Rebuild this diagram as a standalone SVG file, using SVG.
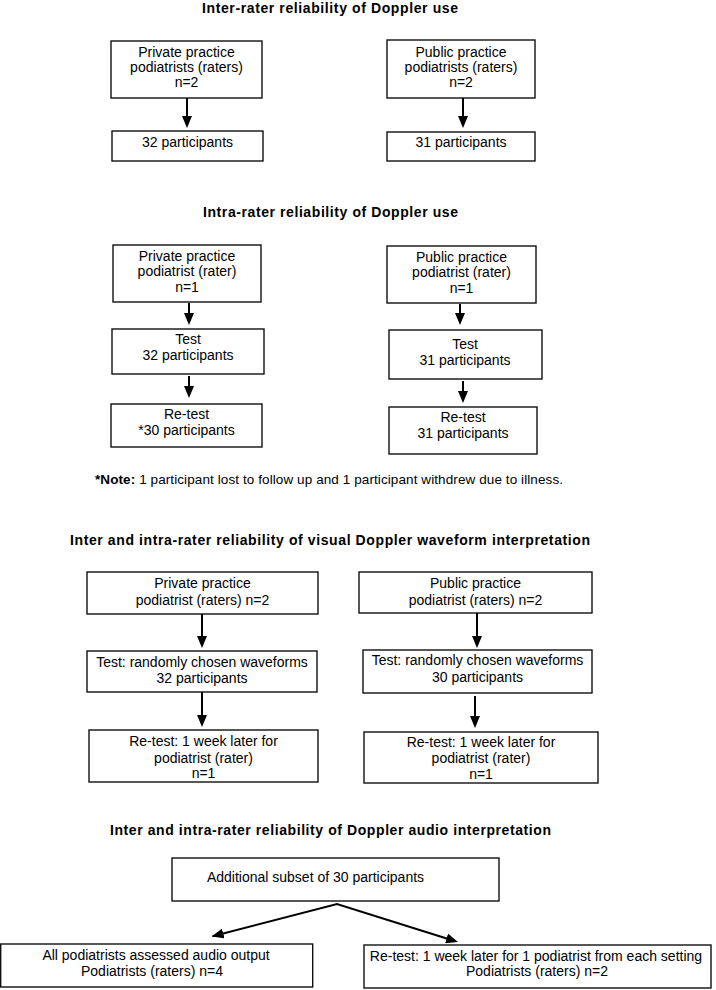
<svg xmlns="http://www.w3.org/2000/svg" width="716" height="990" viewBox="0 0 716 990">
<style>
  text { font-family: "Liberation Sans", Arial, Helvetica, sans-serif; fill: #000; }
  .t { font-size: 14px; font-weight: bold; }
  .b { font-size: 14px; text-anchor: middle; }
  .box { fill: #fff; stroke: #111; stroke-width: 1.4; }
  .conn { stroke: #000; stroke-width: 2; fill: none; }
  .note { font-size: 13.5px; }
</style>
<defs>
  <marker id="ah" viewBox="0 0 12 10" markerWidth="12" markerHeight="10" refX="1" refY="5" orient="auto" markerUnits="userSpaceOnUse">
    <path d="M0,0 L12,5 L0,10 z" fill="#000"/>
  </marker>
  <marker id="ahs" viewBox="0 0 12 10" markerWidth="12" markerHeight="10" refX="11" refY="5" orient="auto-start-reverse" markerUnits="userSpaceOnUse">
    <path d="M0,0 L12,5 L0,10 z" fill="#000"/>
  </marker>
</defs>
<rect width="716" height="990" fill="#fff"/>

<!-- Titles -->
<text class="t" x="202" y="13" textLength="256" lengthAdjust="spacing">Inter-rater reliability of Doppler use</text>
<text class="t" x="203" y="217" textLength="255" lengthAdjust="spacing">Intra-rater reliability of Doppler use</text>
<text class="t" x="70" y="545" textLength="520" lengthAdjust="spacing">Inter and intra-rater reliability of visual Doppler waveform interpretation</text>
<text class="t" x="110" y="835" textLength="441" lengthAdjust="spacing">Inter and intra-rater reliability of Doppler audio interpretation</text>

<!-- Section 1 -->
<g id="s1-priv">
  <rect class="box" x="111" y="41" width="151" height="57"/>
  <text class="b" x="186.5" y="57">Private practice</text>
  <text class="b" x="186.5" y="72">podiatrists (raters)</text>
  <text class="b" x="186.5" y="87">n=2</text>
</g>
<g id="s1-priv-n">
  <rect class="box" x="112" y="131" width="151" height="30"/>
  <text class="b" x="187.5" y="147">32 participants</text>
</g>
<g id="s1-pub">
  <rect class="box" x="387" y="40" width="148" height="58"/>
  <text class="b" x="461" y="57">Public practice</text>
  <text class="b" x="461" y="72">podiatrists (raters)</text>
  <text class="b" x="461" y="87">n=2</text>
</g>
<g id="s1-pub-n">
  <rect class="box" x="387" y="132" width="148" height="29"/>
  <text class="b" x="461" y="147">31 participants</text>
</g>

<!-- Section 2 -->
<g id="s2-priv">
  <rect class="box" x="113" y="245" width="148" height="57"/>
  <text class="b" x="187" y="261">Private practice</text>
  <text class="b" x="187" y="276">podiatrist (rater)</text>
  <text class="b" x="187" y="292">n=1</text>
</g>
<g id="s2-priv-test">
  <rect class="box" x="112" y="329" width="152" height="45"/>
  <text class="b" x="188" y="344">Test</text>
  <text class="b" x="188" y="360">32 participants</text>
</g>
<g id="s2-priv-retest">
  <rect class="box" x="111" y="404" width="151" height="43"/>
  <text class="b" x="186.5" y="419">Re-test</text>
  <text class="b" x="186.5" y="435">*30 participants</text>
</g>
<g id="s2-pub">
  <rect class="box" x="387" y="246" width="149" height="57"/>
  <text class="b" x="461.5" y="262">Public practice</text>
  <text class="b" x="461.5" y="277">podiatrist (rater)</text>
  <text class="b" x="461.5" y="293">n=1</text>
</g>
<g id="s2-pub-test">
  <rect class="box" x="389" y="330" width="153" height="49"/>
  <text class="b" x="465" y="349">Test</text>
  <text class="b" x="465" y="365">31 participants</text>
</g>
<g id="s2-pub-retest">
  <rect class="box" x="389" y="407" width="148" height="47"/>
  <text class="b" x="463" y="422">Re-test</text>
  <text class="b" x="463" y="438">31 participants</text>
</g>
<text class="note" x="95" y="484" textLength="468" lengthAdjust="spacing"><tspan font-weight="bold">*Note:</tspan> 1 participant lost to follow up and 1 participant withdrew due to illness.</text>

<!-- Section 3 -->
<g id="s3-priv">
  <rect class="box" x="87" y="572" width="231" height="42"/>
  <text class="b" x="202.5" y="588">Private practice</text>
  <text class="b" x="202.5" y="605">podiatrist (raters) n=2</text>
</g>
<g id="s3-priv-test">
  <rect class="box" x="87" y="651" width="230" height="41"/>
  <text class="b" x="202" y="667">Test: randomly chosen waveforms</text>
  <text class="b" x="202" y="683">32 participants</text>
</g>
<g id="s3-priv-retest">
  <rect class="box" x="89" y="730" width="229" height="52"/>
  <text class="b" x="203.5" y="746">Re-test: 1 week later for</text>
  <text class="b" x="203.5" y="763">podiatrist (rater)</text>
  <text class="b" x="203.5" y="778">n=1</text>
</g>
<g id="s3-pub">
  <rect class="box" x="359" y="572" width="233" height="41"/>
  <text class="b" x="475.5" y="588">Public practice</text>
  <text class="b" x="475.5" y="605">podiatrist (raters) n=2</text>
</g>
<g id="s3-pub-test">
  <rect class="box" x="363" y="650" width="229" height="43"/>
  <text class="b" x="477.5" y="665">Test: randomly chosen waveforms</text>
  <text class="b" x="477.5" y="682">30 participants</text>
</g>
<g id="s3-pub-retest">
  <rect class="box" x="364" y="732" width="234" height="51"/>
  <text class="b" x="481" y="747">Re-test: 1 week later for</text>
  <text class="b" x="481" y="763">podiatrist (rater)</text>
  <text class="b" x="481" y="779">n=1</text>
</g>

<!-- Section 4 -->
<g id="s4-subset">
  <rect class="box" x="172" y="858" width="327" height="43"/>
  <text class="b" x="315.5" y="882">Additional subset of 30 participants</text>
</g>
<g id="s4-all">
  <rect class="box" x="0.7" y="944" width="312" height="43"/>
  <text class="b" x="156" y="960">All podiatrists assessed audio output</text>
  <text class="b" x="152" y="976">Podiatrists (raters) n=4</text>
</g>
<g id="s4-retest">
  <rect class="box" x="364" y="945" width="347" height="43"/>
  <text class="b" x="536" y="961">Re-test: 1 week later for 1 podiatrist from each setting</text>
  <text class="b" x="537" y="976">Podiatrists (raters) n=2</text>
</g>

<!-- Connectors -->
<g id="connectors">
  <line class="conn" x1="187" y1="98" x2="187" y2="117" marker-end="url(#ah)"/>
  <line class="conn" x1="463" y1="98" x2="463" y2="117" marker-end="url(#ah)"/>
  <line class="conn" x1="189" y1="303" x2="189" y2="314" marker-end="url(#ah)"/>
  <line class="conn" x1="189" y1="376" x2="189" y2="387" marker-end="url(#ah)"/>
  <line class="conn" x1="460" y1="304" x2="460" y2="314" marker-end="url(#ah)"/>
  <line class="conn" x1="463" y1="381" x2="463" y2="392" marker-end="url(#ah)"/>
  <line class="conn" x1="202" y1="614" x2="202" y2="637" marker-end="url(#ah)"/>
  <line class="conn" x1="202" y1="692" x2="202" y2="716" marker-end="url(#ah)"/>
  <line class="conn" x1="477" y1="613" x2="477" y2="637" marker-end="url(#ah)"/>
  <line class="conn" x1="475" y1="696" x2="475" y2="717" marker-end="url(#ah)"/>
  <polyline class="conn" points="212.6,936.2 337,904 447.5,938.7" marker-start="url(#ahs)" marker-end="url(#ah)"/>
</g>
</svg>
